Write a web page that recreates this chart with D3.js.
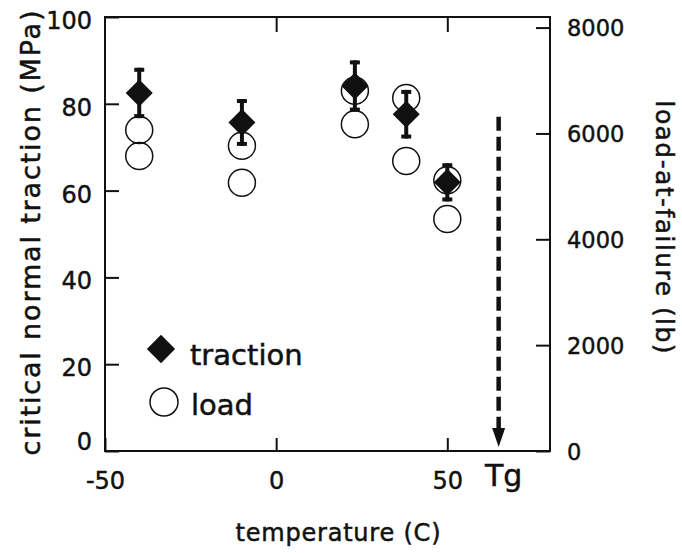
<!DOCTYPE html>
<html>
<head>
<meta charset="utf-8">
<script src="https://cdn.jsdelivr.net/npm/d3@7"></script>
<style>
    body { margin: 0; background: #fff; }
    #traction-chart svg { display: block; }
    .axis text { font-family: "DejaVu Sans", Verdana, sans-serif; fill: #111; stroke: #111; stroke-width: 0.45; }
    .axis line { stroke: #111; stroke-width: 2; }
    .axisTitle, .legendText, .tgText { font-family: "DejaVu Sans", Verdana, sans-serif; fill: #111; stroke: #111; stroke-width: 0.5; }
    .frame { fill: none; stroke: #111; stroke-width: 2; }
</style>
</head>
<body>
<div id="traction-chart"></div>
<script>
// test temperatures (C)
var temps = [-40, -10, 23, 38, 50];
// mean critical normal traction (MPa) and its scatter (+/-)
var traction = [82.5, 75.7, 84.1, 77.6, 61.9];
var tractionErr = [5.8, 5.4, 5.9, 5.6, 4.4];
// two load-at-failure tests (lb) at each temperature
var loadTemps = [-40, -40, -10, -10, 23, 23, 38, 38, 50, 50];
var loads = [6065, 5574, 5768, 5069, 6807, 6173, 6670, 5479, 5115, 4383];
// tick labels
var xTicks = [-50, 0, 50];
var topTicks = [0, 50];
var yLeftTicks = [0, 20, 40, 60, 80, 100];
var yRightTicks = [0, 2000, 4000, 6000, 8000];
// glass transition marker (temperature, traction from / to)
var tgTemp = 65;
var tgRange = [77, 0];

/**
 * Constructor for the traction / load chart
 */
function TractionChart(){
    var self = this;
    self.init();
};

/**
 * Creates the svg and the scales
 */
TractionChart.prototype.init = function(){
    var self = this;
    self.margin = {top: 17, right: 132, bottom: 102, left: 105};
    self.svgWidth = 682;
    self.svgHeight = 553;
    self.width = self.svgWidth - self.margin.left - self.margin.right;
    self.height = self.svgHeight - self.margin.top - self.margin.bottom;

    self.svg = d3.select("#traction-chart").append("svg")
        .attr("width", self.svgWidth)
        .attr("height", self.svgHeight);

    self.g = self.svg.append("g")
        .attr("transform", "translate(" + self.margin.left + "," + self.margin.top + ")");

    self.xScale = d3.scaleLinear().domain([-50, 80]).range([0, self.width]);
    self.yLeft = d3.scaleLinear().domain([0, 100]).range([self.height, 0]);
    self.yRight = d3.scaleLinear().domain([0, 8200]).range([self.height, 0]);
};

/**
 * Draws the axes, frame and axis titles
 */
TractionChart.prototype.drawAxes = function(){
    var self = this;
    var plain = function(d){ return String(d); };

    var left = self.g.append("g").attr("class", "axis")
        .call(d3.axisLeft(self.yLeft).tickValues(yLeftTicks).tickSize(-14).tickPadding(13).tickFormat(plain));
    left.selectAll("text").style("font-size", "24px").attr("dy", "0.48em");
    // the 0 label sits raised above the corner
    left.selectAll("text").filter(function(d){ return d === 0; }).attr("y", -13);

    var right = self.g.append("g").attr("class", "axis")
        .attr("transform", "translate(" + self.width + ",0)")
        .call(d3.axisRight(self.yRight).tickValues(yRightTicks).tickSize(-14).tickPadding(17).tickFormat(plain));
    right.selectAll("text").style("font-size", "22.5px").attr("dy", "0.36em");

    var bottom = self.g.append("g").attr("class", "axis")
        .attr("transform", "translate(0," + self.height + ")")
        .call(d3.axisBottom(self.xScale).tickValues(xTicks).tickSize(-13).tickPadding(21).tickFormat(plain));
    bottom.selectAll("text").style("font-size", "24px");

    self.g.append("g").attr("class", "axis")
        .call(d3.axisTop(self.xScale).tickValues(topTicks).tickSize(-15).tickFormat(""));

    self.g.selectAll(".axis .domain").remove();

    self.g.append("rect")
        .attr("class", "frame")
        .attr("width", self.width)
        .attr("height", self.height);

    self.svg.append("text")
        .attr("class", "axisTitle")
        .attr("transform", "translate(40,233) rotate(-90)")
        .attr("text-anchor", "middle")
        .attr("textLength", 445)
        .attr("lengthAdjust", "spacing")
        .style("font-size", "27px")
        .text("critical normal traction (MPa)");

    self.svg.append("text")
        .attr("class", "axisTitle")
        .attr("transform", "translate(656,227) rotate(90)")
        .attr("text-anchor", "middle")
        .attr("textLength", 253)
        .attr("lengthAdjust", "spacing")
        .style("font-size", "25px")
        .text("load-at-failure (lb)");

    self.svg.append("text")
        .attr("class", "axisTitle")
        .attr("x", 338)
        .attr("y", 541)
        .attr("text-anchor", "middle")
        .attr("textLength", 205)
        .attr("lengthAdjust", "spacing")
        .style("font-size", "24px")
        .text("temperature (C)");
};

/**
 * Draws the load circles, traction diamonds with error bars, the Tg arrow and the legend
 */
TractionChart.prototype.update = function(){
    var self = this;
    var x = self.xScale, yL = self.yLeft, yR = self.yRight;

    var loadData = loads.map(function(v, i){ return {t: loadTemps[i], v: v}; });
    self.g.selectAll("circle.load").data(loadData).enter().append("circle")
        .attr("class", "load")
        .attr("cx", function(d){ return x(d.t); })
        .attr("cy", function(d){ return yR(d.v); })
        .attr("r", 13.5)
        .attr("fill", "none")
        .attr("stroke", "#111")
        .attr("stroke-width", 1.5);

    var tracData = traction.map(function(v, i){ return {t: temps[i], v: v, e: tractionErr[i]}; });
    var groups = self.g.selectAll("g.traction").data(tracData).enter().append("g")
        .attr("class", "traction");

    groups.append("line")
        .attr("x1", function(d){ return x(d.t); })
        .attr("x2", function(d){ return x(d.t); })
        .attr("y1", function(d){ return yL(d.v + d.e); })
        .attr("y2", function(d){ return yL(d.v - d.e); })
        .attr("stroke", "#111")
        .attr("stroke-width", 4);
    groups.append("rect")
        .attr("x", function(d){ return x(d.t) - 5; })
        .attr("y", function(d){ return yL(d.v + d.e); })
        .attr("width", 10)
        .attr("height", 4)
        .attr("fill", "#111");
    groups.append("rect")
        .attr("x", function(d){ return x(d.t) - 5; })
        .attr("y", function(d){ return yL(d.v - d.e) - 4; })
        .attr("width", 10)
        .attr("height", 4)
        .attr("fill", "#111");
    groups.append("path")
        .attr("d", d3.symbol(d3.symbolSquare, 365))
        .attr("transform", function(d){ return "translate(" + x(d.t) + "," + yL(d.v) + ") rotate(45)"; })
        .attr("fill", "#111");

    // Tg arrow
    var tx = x(tgTemp);
    var tip = yL(tgRange[1]) - 4;
    self.g.append("line")
        .attr("x1", tx).attr("x2", tx)
        .attr("y1", yL(tgRange[0]))
        .attr("y2", tip - 18)
        .attr("stroke", "#111")
        .attr("stroke-width", 4.5)
        .attr("stroke-dasharray", "14,6");
    self.g.append("path")
        .attr("d", "M" + (tx - 6.5) + "," + (tip - 19) + "L" + (tx + 6.5) + "," + (tip - 19) + "L" + tx + "," + tip + "Z")
        .attr("fill", "#111");
    self.g.append("text")
        .attr("class", "tgText")
        .attr("x", tx + 5)
        .attr("y", self.height + 35)
        .attr("text-anchor", "middle")
        .style("font-size", "30px")
        .text("Tg");

    // legend
    var legend = self.svg.append("g");
    legend.append("path")
        .attr("d", d3.symbol(d3.symbolSquare, 400))
        .attr("transform", "translate(161,349) rotate(45)")
        .attr("fill", "#111");
    legend.append("text")
        .attr("class", "legendText")
        .attr("x", 190).attr("y", 365)
        .style("font-size", "29px")
        .text("traction");
    legend.append("circle")
        .attr("cx", 164).attr("cy", 402).attr("r", 14)
        .attr("fill", "none")
        .attr("stroke", "#111")
        .attr("stroke-width", 1.5);
    legend.append("text")
        .attr("class", "legendText")
        .attr("x", 191).attr("y", 415)
        .style("font-size", "29px")
        .text("load");
};

var chart = new TractionChart();
chart.drawAxes();
chart.update();
</script>
</body>
</html>
